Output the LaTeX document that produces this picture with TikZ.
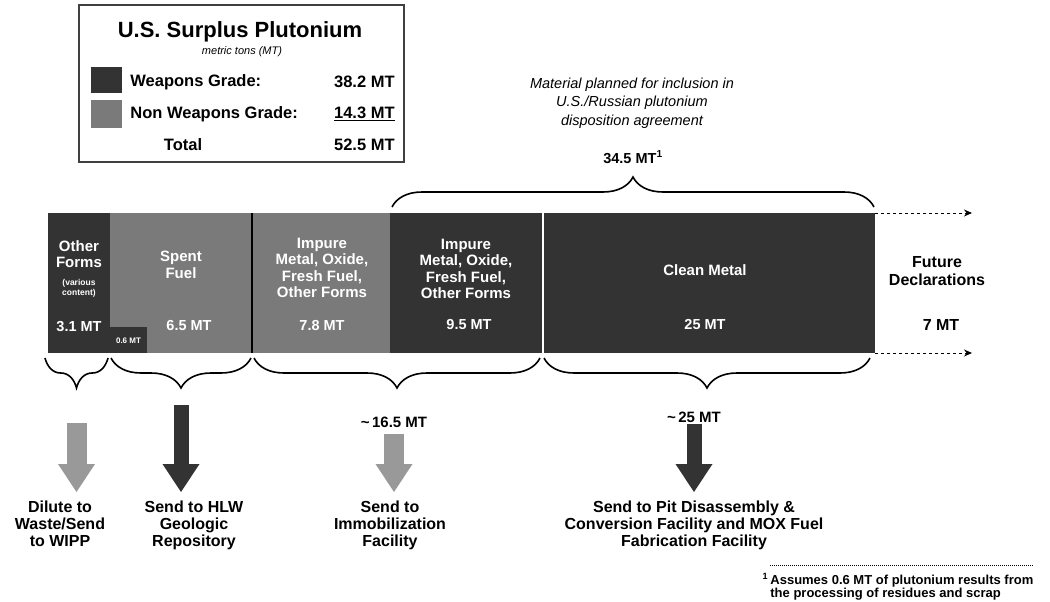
\documentclass[tikz,border=0pt]{standalone}
\usepackage{fontspec}
\setmainfont{Liberation Sans}
\usetikzlibrary{decorations.pathreplacing,arrows.meta}
\definecolor{wgrade}{gray}{0.2}
\definecolor{nwgrade}{gray}{0.48}

\begin{document}
\begin{tikzpicture}[thick,x=1pt,y=-1pt]
        %
        % `block' is used for the bars, `inbar' and `amount' for the white text on them.
        % `bracetop' and `bracebot' are the braces, `dispose' the labels at the bottom.
        \tikzstyle{block} = [inner sep=0pt,outer sep=0pt,minimum height=140pt]
        \tikzstyle{inbar} = [text=white,align=center,inner sep=0pt,font=\bfseries\fontsize{15}{16.5}\selectfont]
        \tikzstyle{amount} = [text=white,inner sep=0pt,font=\bfseries\fontsize{14.5}{16}\selectfont]
        \tikzstyle{legendrow} = [inner sep=0pt,font=\bfseries\fontsize{16.5}{18}\selectfont]
        \tikzstyle{bracetop} = [decorate,decoration={brace,amplitude=30pt},line width=1.6pt]
        \tikzstyle{bracebot} = [decorate,decoration={brace,mirror,amplitude=30pt},line width=1.6pt]
        \tikzstyle{dispose} = [align=center,inner sep=0pt,font=\bfseries\fontsize{16}{17}\selectfont]
        \tikzstyle{bigdark} = [line width=15pt,draw=black!80,-{Triangle[length=28pt,width=37pt,line width=0pt]}]
        \tikzstyle{biglight} = [line width=20pt,draw=black!40,-{Triangle[length=28pt,width=37pt,line width=0pt]}]
        \tikzstyle{future} = [dashed,line width=1pt,-{Stealth[length=8pt,width=7pt]}]
        %
        \useasboundingbox (0,0) rectangle (1050,602);
        %
        % Legend
        \node[draw=black!75,line width=1.3pt,minimum width=325pt,minimum height=157pt,inner sep=0pt] (legend) at (241.5,83.5) {};
        \node[inner sep=0pt,font=\bfseries\fontsize{22}{24}\selectfont] (title) at (240,32) {U.S. Surplus Plutonium};
        \node[inner sep=0pt,font=\itshape\fontsize{11}{12}\selectfont] (units) at (242,52) {metric tons (MT)};
        \node[fill=wgrade,minimum width=31pt,minimum height=26pt,inner sep=0pt] (keywg) at (106.5,80) {};
        \node[fill=nwgrade,minimum width=31pt,minimum height=28pt,inner sep=0pt] (keynwg) at (106.5,114) {};
        \node[legendrow,anchor=west] (wglabel) at (130,82) {Weapons Grade:};
        \node[legendrow,anchor=east] (wgvalue) at (395,82) {38.2 MT};
        \node[legendrow,anchor=west] (nwglabel) at (130,114) {Non Weapons Grade:};
        \node[legendrow,anchor=east] (nwgvalue) at (395,114) {\underline{14.3 MT}};
        \node[legendrow] (totlabel) at (183,145) {Total};
        \node[legendrow,anchor=east] (totvalue) at (395,145) {52.5 MT};
        %
        % Agreement material
        \node[align=center,inner sep=0pt,font=\itshape\fontsize{14.5}{18.5}\selectfont] (agreed) at (632,103)
        {Material planned for inclusion in\\U.S./Russian plutonium\\disposition agreement};
        \draw[bracetop] (392,207) -- node[midway,above=43pt,inner sep=0pt,font=\bfseries\fontsize{14.5}{16}\selectfont] (mtagreed) {34.5 MT\textsuperscript{1}} (874,207);
        %
        % Bars, left to right
        \node[block,fill=wgrade,minimum width=62pt] (other) at (79,283) {};
        \node[block,fill=nwgrade,minimum width=142pt] (spent) at (181,283) {};
        \node[block,fill=nwgrade,minimum width=138pt] (impure1) at (321,283) {};
        \node[block,fill=wgrade,minimum width=153pt] (impure2) at (466.5,283) {};
        \node[block,fill=wgrade,minimum width=332pt] (clean) at (709,283) {};
        \node[block,fill=wgrade,minimum width=37pt,minimum height=26pt] (smallwg) at (128.5,340) {};
        \draw[line width=1.5pt] (spent.north east) -- (spent.south east);
        \draw[white,line width=2pt] (clean.north west) -- (clean.south west);
        %
        % Text on the bars
        \node[inbar] (otherlbl) at (79,254) {Other\\Forms};
        \node[inbar,font=\bfseries\fontsize{8.5}{10}\selectfont] (othernote) at (79,288) {(various\\content)};
        \node[amount] (otheramt) at (79,327) {3.1 MT};
        \node[amount,font=\bfseries\fontsize{8}{9}\selectfont] (smallamt) at (128.5,341) {0.6 MT};
        \node[inbar] (spentlbl) at (181,265) {Spent\\Fuel};
        \node[amount] (spentamt) at (189,326) {6.5 MT};
        \node[inbar] (imp1lbl) at (322,268) {Impure\\Metal, Oxide,\\Fresh Fuel,\\Other Forms};
        \node[amount] (imp1amt) at (322,326) {7.8 MT};
        \node[inbar] (imp2lbl) at (466,269) {Impure\\Metal, Oxide,\\Fresh Fuel,\\Other Forms};
        \node[amount] (imp2amt) at (469,325) {9.5 MT};
        \node[inbar] (cleanlbl) at (705,270) {Clean Metal};
        \node[amount] (cleanamt) at (705,325) {25 MT};
        %
        % Future declarations
        \node[align=center,inner sep=0pt,font=\bfseries\fontsize{16}{18}\selectfont] (futlbl) at (937,271) {Future\\Declarations};
        \node[inner sep=0pt,font=\bfseries\fontsize{16}{18}\selectfont] (futamt) at (941,325) {7 MT};
        \coordinate (futtop) at (972,213);
        \coordinate (futbot) at (972,353);
        \draw[future] (clean.north east) -- (futtop);
        \draw[future] (clean.south east) -- (futbot);
        %
        % Braces under the bars
        \draw[bracebot] (45,358) -- coordinate[midway,yshift=-30pt] (tip1) (108,358);
        \draw[bracebot] (111,358) -- coordinate[midway,yshift=-30pt] (tip2) (251,358);
        \draw[bracebot] (254,358) -- coordinate[midway,yshift=-30pt] (tip3) (540,358);
        \draw[bracebot] (544,358) -- coordinate[midway,yshift=-30pt] (tip4) (870,358);
        \node[inner sep=0pt,font=\bfseries\fontsize{15}{16}\selectfont] (mtimmob) at (394,422) {\textasciitilde\,16.5 MT};
        \node[inner sep=0pt,font=\bfseries\fontsize{15}{16}\selectfont] (mtmox) at (694,417) {\textasciitilde\,25 MT};
        %
        % Dispositions
        \node[dispose,anchor=north] (dilute) at (60,501) {Dilute to\\Waste/Send\\to WIPP};
        \node[dispose,anchor=north] (hlw) at (194,501) {Send to HLW\\Geologic\\Repository};
        \node[dispose,anchor=north] (immob) at (390,501) {Send to\\Immobilization\\Facility};
        \node[dispose,anchor=north] (mox) at (694,501) {Send to Pit Disassembly \&\\Conversion Facility and MOX Fuel\\Fabrication Facility};
        \draw[biglight,shorten <=35pt,shorten >=9pt] (tip1) -- (tip1 |- dilute.north);
        \draw[bigdark,shorten <=17pt,shorten >=9pt] (tip2) -- (tip2 |- hlw.north);
        \draw[biglight,shorten <=6pt,shorten >=9pt] (mtimmob) -- (mtimmob |- immob.north);
        \draw[bigdark,shorten <=1pt,shorten >=9pt] (mtmox) -- (mtmox |- mox.north);
        %
        % Footnote
        \node[anchor=north west,align=left,inner sep=0pt,font=\bfseries\fontsize{13}{13}\selectfont] (fnote) at (770,573)
        {\llap{\textsuperscript{1}\,}Assumes 0.6 MT of plutonium results from\\the processing of residues and scrap};
        \draw[densely dotted,line width=1pt] ([yshift=8pt]fnote.north west) -- ([yshift=8pt]fnote.north east);
        %
\end{tikzpicture}
\end{document}
